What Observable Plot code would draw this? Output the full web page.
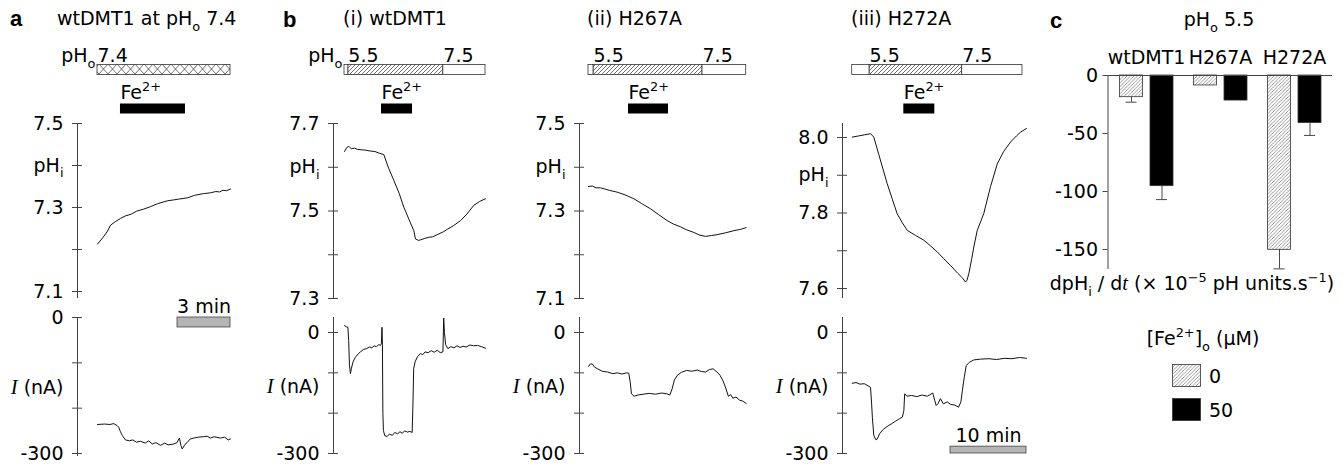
<!DOCTYPE html>
<html><head><meta charset="utf-8">
<script src="https://cdn.jsdelivr.net/npm/d3@7"></script>
<script src="https://cdn.jsdelivr.net/npm/@observablehq/plot@0.6"></script>
<style>
body{margin:0;background:#fff;}
#fig{position:relative;width:1343px;height:468px;overflow:hidden;background:#fff;color:#000;font-family:"DejaVu Sans",sans-serif}
#fig svg.layer{position:absolute;left:0;top:0}
</style></head><body>
<svg width="0" height="0" style="position:absolute">
<defs>
<pattern id="hatch" patternUnits="userSpaceOnUse" width="4" height="4">
<rect width="4" height="4" fill="#fff"/>
<path d="M-1,1 l2,-2 M0,4 l4,-4 M3,5 l2,-2" stroke="#333" stroke-width="0.7"/>
</pattern>
<pattern id="hatchC" patternUnits="userSpaceOnUse" width="3.5" height="3.5">
<rect width="3.5" height="3.5" fill="#fff"/>
<path d="M-1,1 l2,-2 M0,3.5 l3.5,-3.5 M2.5,4.5 l2,-2" stroke="#555" stroke-width="0.6"/>
</pattern>
<pattern id="cross" patternUnits="userSpaceOnUse" width="9" height="10" y="64">
<rect width="9" height="10" fill="#fff"/>
<path d="M0,0 L9,10 M0,10 L9,0" stroke="#333" stroke-width="0.7"/>
</pattern>
</defs>
</svg>
<div id="fig"></div>
<script>
// ---------------- DATA ----------------
// Panel a: wtDMT1 at pHo 7.4 (time in min, pHi / current in nA)
const phA = [[0,7.213],[0.3,7.228],[0.57,7.244],[0.74,7.258],[1.0,7.266],[1.3,7.274],[1.58,7.280],[1.9,7.284],[2.2,7.291],[2.6,7.296],[3.0,7.302],[3.4,7.309],[3.96,7.316],[4.3,7.318],[4.6,7.320],[5.09,7.323],[5.5,7.329],[6.0,7.333],[6.4,7.335],[6.7,7.338],[6.9,7.337],[7.1,7.341],[7.3,7.340],[7.53,7.344]];
const curA = [[0,-236],[0.4,-235],[0.7,-236],[0.92,-234],[1.1,-238],[1.2,-242],[1.3,-252],[1.4,-260],[1.58,-270],[1.8,-272],[2.0,-270],[2.2,-275],[2.43,-273],[2.7,-277],[2.9,-272],[3.1,-279],[3.3,-276],[3.57,-282],[3.8,-277],[4.0,-281],[4.32,-279],[4.5,-276],[4.64,-266],[4.72,-282],[4.8,-290],[4.95,-280],[5.07,-276],[5.25,-268],[5.45,-266],[5.7,-264],[6.0,-263],[6.21,-262],[6.4,-266],[6.6,-263],[6.96,-266],[7.2,-264],[7.4,-270],[7.53,-268]];
const pHoA = [{t1:0,t2:7.53,pH:"7.4",label:true}];
const feA = [{t1:1.3,t2:4.98}];
const phTicksA = [7.1,7.2,7.3,7.4,7.5];
const phTickLabelsA = ["7.1","","7.3","pH_{i}","7.5"];
const curTicksA = [0,-100,-200,-300];
const curTickLabelsA = ["0","","","-300"];
const scaleBarA = [{len:3,end:7.53,y1:0,y2:-22}];

// Panel b(i) wtDMT1
const phB1 = [[0,7.636],[0.3,7.645],[0.57,7.648],[0.9,7.642],[1.3,7.644],[1.67,7.641],[2.2,7.640],[2.8,7.639],[3.42,7.637],[4.0,7.636],[4.6,7.632],[5.17,7.629],[5.8,7.598],[6.49,7.570],[7.2,7.540],[7.8,7.509],[8.5,7.480],[9.12,7.455],[9.34,7.436],[9.7,7.433],[10.0,7.434],[10.5,7.437],[11.09,7.440],[11.6,7.441],[12.2,7.446],[12.7,7.450],[13.07,7.453],[13.51,7.458],[14.3,7.466],[15.26,7.478],[16.1,7.493],[17.01,7.513],[17.8,7.522],[18.55,7.528]];
const curB1 = [[0,17],[0.25,14],[0.45,13],[0.55,-20],[0.65,-80],[0.78,-102],[0.9,-90],[1.1,-74],[1.4,-62],[1.8,-53],[2.1,-48],[2.5,-42],[2.9,-40],[3.3,-36],[3.6,-38],[3.9,-33],[4.2,-35],[4.5,-30],[4.75,-32],[4.85,-28],[4.93,13],[4.99,-30],[5.05,-200],[5.12,-243],[5.3,-256],[5.6,-258],[5.9,-252],[6.3,-255],[6.6,-248],[7.0,-251],[7.3,-246],[7.6,-250],[7.9,-244],[8.3,-247],[8.6,-245],[8.9,-248],[9.0,-180],[9.1,-90],[9.3,-72],[9.6,-60],[10.0,-52],[10.3,-55],[10.6,-48],[11.0,-50],[11.4,-45],[11.8,-49],[12.2,-44],[12.6,-50],[12.95,-48],[13.05,36],[13.15,0],[13.3,-30],[13.6,-40],[14.0,-35],[14.4,-38],[14.8,-33],[15.2,-37],[15.6,-34],[16.0,-36],[16.5,-31],[17.0,-33],[17.5,-32],[18.0,-35],[18.55,-39]];
const pHoB1 = [{t1:0,t2:0.5,pH:"7.5",label:false},{t1:0.5,t2:13.0,pH:"5.5",label:true},{t1:13.0,t2:18.55,pH:"7.5",label:true}];
const feB1 = [{t1:4.87,t2:8.95}];
const phTicksB1 = [7.3,7.4,7.5,7.6,7.7];
const phTickLabelsB1 = ["7.3","","7.5","pH_{i}","7.7"];

// Panel b(ii) H267A
const phB2 = [[0,7.356],[0.5,7.357],[1.0,7.353],[1.58,7.353],[2.2,7.350],[2.8,7.347],[3.78,7.343],[4.8,7.337],[5.96,7.328],[7.0,7.317],[8.16,7.305],[9.2,7.292],[10.36,7.278],[11.2,7.270],[12.1,7.264],[12.9,7.257],[13.86,7.251],[14.6,7.245],[15.4,7.242],[16.2,7.244],[16.93,7.246],[18.0,7.250],[19.12,7.255],[20.0,7.258],[20.75,7.262]];
const curB2 = [[0,-84],[0.25,-78],[0.5,-78],[0.8,-86],[1.2,-90],[1.8,-96],[2.5,-98],[3.2,-102],[3.8,-100],[4.4,-103],[5.0,-100],[5.3,-101],[5.5,-125],[5.65,-152],[6.0,-158],[6.5,-155],[7.2,-153],[8.0,-151],[8.8,-153],[9.6,-150],[10.3,-152],[10.7,-155],[11.0,-140],[11.3,-118],[11.7,-106],[12.2,-99],[12.9,-94],[13.6,-96],[14.3,-93],[14.9,-97],[15.4,-98],[15.9,-92],[16.4,-90],[16.9,-98],[17.3,-106],[17.7,-120],[18.1,-140],[18.4,-158],[18.7,-154],[19.0,-163],[19.4,-160],[19.9,-168],[20.3,-170],[20.75,-176]];
const pHoB2 = [{t1:0,t2:0.66,pH:"7.5",label:false},{t1:0.66,t2:15.0,pH:"5.5",label:true},{t1:15.0,t2:20.75,pH:"7.5",label:true}];
const feB2 = [{t1:5.26,t2:10.53}];
const phTicksB2 = [7.1,7.2,7.3,7.4,7.5];
const phTickLabelsB2 = ["7.1","","7.3","pH_{i}","7.5"];

// Panel b(iii) H272A
const phB3 = [[0,8.001],[0.8,8.004],[1.6,8.007],[2.41,8.010],[2.84,8.001],[3.5,7.955],[4.6,7.878],[5.3,7.835],[5.92,7.798],[6.6,7.774],[7.24,7.754],[8.3,7.741],[9.42,7.728],[10.3,7.713],[11.18,7.697],[12.0,7.680],[12.93,7.661],[13.9,7.640],[14.5,7.628],[14.91,7.617],[15.1,7.622],[15.34,7.639],[15.7,7.676],[16.0,7.710],[16.45,7.754],[17.3,7.798],[18.2,7.870],[19.08,7.930],[19.9,7.962],[20.83,7.988],[21.6,8.004],[22.14,8.014],[22.93,8.024]];
const curB3 = [[0,-126],[0.5,-124],[1.0,-128],[1.6,-127],[2.41,-136],[2.55,-175],[2.65,-210],[2.84,-255],[3.1,-266],[3.3,-264],[3.6,-251],[4.1,-240],[4.6,-233],[5.2,-226],[5.7,-220],[6.2,-214],[6.6,-210],[6.8,-193],[6.9,-152],[7.2,-158],[7.8,-156],[8.5,-159],[9.2,-155],[9.9,-158],[10.6,-150],[10.85,-168],[11.05,-181],[11.3,-176],[11.6,-164],[12.0,-177],[12.5,-172],[12.93,-178],[13.5,-180],[14.0,-185],[14.3,-172],[14.5,-143],[14.75,-110],[15.0,-82],[15.4,-74],[16.0,-68],[16.9,-66],[18.0,-65],[19.0,-67],[20.0,-64],[21.0,-65],[22.0,-62],[22.93,-64]];
const pHoB3 = [{t1:0,t2:2.28,pH:"7.5",label:false},{t1:2.28,t2:14.47,pH:"5.5",label:true},{t1:14.47,t2:22.4,pH:"7.5",label:true}];
const feB3 = [{t1:6.79,t2:10.87}];
const phTicksB3 = [7.6,7.7,7.8,7.9,8.0];
const phTickLabelsB3 = ["7.6","","7.8","pH_{i}","8.0"];
const scaleBarB3 = [{len:10,end:22.93,y1:-283,y2:-300}];

const curTicksB = [0,-100,-200,-300];
const curTickLabelsB = ["0","","","-300"];

// Panel c: dpHi/dt at pHo 5.5
const groups = ["wtDMT1","H267A","H272A"];
const feConcs = ["0","50"];
const rate0 = [-18.7,-8.6,-150.3];
const se0 = [4.3,0,16.4];
const rate50 = [-95.4,-21.6,-41.0];
const se50 = [11.6,0,10.7];
const cTicks = [0,-50,-100,-150];

// ---------------- DRAWING ----------------
const W = 1343, H = 468;
const fig = document.getElementById("fig");
const NS = "http://www.w3.org/2000/svg";
const AX = "#444";

function rich(root){
  root.querySelectorAll("text").forEach(t=>{
    const s = t.textContent;
    if(!/[_^~]\{/.test(s)) return;
    const fs = parseFloat(getComputedStyle(t).fontSize) || 19;
    while(t.firstChild) t.removeChild(t.firstChild);
    const re = /([_^~])\{([^}]*)\}/g;
    let last = 0, m, cur = 0;
    const add = (str, kind)=>{
      if(!str) return;
      const sp = document.createElementNS(NS,"tspan");
      sp.textContent = str;
      const off = kind==="^" ? -0.42*fs : kind==="_" ? 0.3*fs : 0;
      if(off!==cur){ sp.setAttribute("dy", (off-cur).toFixed(2)); cur = off; }
      if(kind==="^"||kind==="_") sp.setAttribute("font-size", (0.68*fs).toFixed(1));
      if(kind==="~"){ sp.setAttribute("font-family","Liberation Serif, serif"); sp.setAttribute("font-style","italic"); sp.setAttribute("font-size",(1.08*fs).toFixed(1)); }
      t.appendChild(sp);
    };
    while((m = re.exec(s))){ add(s.slice(last,m.index),""); add(m[2],m[1]); last = re.lastIndex; }
    add(s.slice(last),"");
  });
}

function layer(opts){
  const svg = Plot.plot({
    width:W, height:H,
    style:{background:"transparent", fontFamily:"DejaVu Sans, sans-serif", fontSize:"19px", overflow:"visible", maxWidth:"none", color:"#000"},
    ...opts
  });
  svg.classList.add("layer");
  fig.appendChild(svg);
  rich(svg);
  return svg;
}

const fillFor = {"7.4":"url(#cross)","5.5":"url(#hatch)","7.5":"white"};

function drawColumn(c){
  const xs = {domain:[0,c.tEnd], range:c.px, axis:null, label:null};
  const mr = W - c.px[1];
  // protocol bars
  const segMarks = Object.keys(fillFor).map(k =>
    Plot.barX(c.pHo.filter(d=>d.pH===k), {x1:"t1", x2:"t2", y:()=>"pHo", fill:fillFor[k], stroke:"#333", strokeWidth:0.8, insetTop:14.5, insetBottom:14.5}));
  layer({
    marginLeft:c.axisX, marginRight:mr, marginTop:49.5, marginBottom:H-127.5,
    x:xs, y:{type:"band", domain:["pHo","Fe"], range:[49.5,127.5], padding:0, axis:null, label:null},
    marks:[
      ...segMarks,
      Plot.text(c.pHo.filter(d=>d.label), {x:"t1", y:()=>"pHo", text:"pH", textAnchor:"start", lineAnchor:"bottom", dy:-8}),
      c.showPHo ? Plot.text([c.pHo[0]], {x:"t1", y:()=>"pHo", text:()=>"pH_{o}", textAnchor:"end", lineAnchor:"bottom", dy:-8, dx:-2}) : null,
      Plot.barX(c.fe, {x1:"t1", x2:"t2", y:()=>"Fe", fill:"black", insetTop:14.5, insetBottom:14.5}),
      Plot.text(c.fe, {x:"t1", y:()=>"Fe", text:()=>"Fe^{2+}", textAnchor:"start", lineAnchor:"bottom", dy:-10})
    ]
  });
  // pHi trace
  const phLab = new Map(c.phTicks.map((d,i)=>[d, c.phTickLabels[i]]));
  layer({
    marginLeft:c.axisX, marginRight:mr, marginTop:c.phFrame[0], marginBottom:H-c.phFrame[1],
    x:xs, y:{domain:c.phDomain, range:c.phRange, label:null},
    marks:[
      Plot.frame({anchor:"left", stroke:AX}),
      Plot.axisY(c.phTicks, {anchor:"left", tickSize:10, dx:5, tickFormat:()=>"", stroke:AX, label:null}),
      Plot.axisY(c.phTicks, {anchor:"left", tickSize:0, tickPadding:14, tickFormat:d=>phLab.get(d), label:null}),
      Plot.line(c.ph, {x:d=>d[0], y:d=>d[1], stroke:"#111", strokeWidth:1})
    ]
  });
  // current trace
  const curLab = new Map(c.curTicks.map((d,i)=>[d, c.curTickLabels[i]]));
  layer({
    marginLeft:c.axisX, marginRight:mr, marginTop:c.curFrame[0], marginBottom:H-c.curFrame[1],
    x:xs, y:{domain:[-300,0], range:c.curRange, label:null},
    marks:[
      Plot.frame({anchor:"left", stroke:AX}),
      Plot.axisY(c.curTicks, {anchor:"left", tickSize:10, dx:5, tickFormat:()=>"", stroke:AX, label:null}),
      Plot.axisY(c.curTicks, {anchor:"left", tickSize:0, tickPadding:14, tickFormat:d=>curLab.get(d), label:null}),
      Plot.text(["~{I} (nA)"], {y:()=>c.curLabelY, frameAnchor:"left", dx:-14, textAnchor:"end", text:d=>d}),
      Plot.line(c.cur, {x:d=>d[0], y:d=>d[1], stroke:"#111", strokeWidth:1}),
      c.scaleBar ? Plot.rect(c.scaleBar, {x1:d=>d.end-d.len, x2:d=>d.end, y1:"y1", y2:"y2", fill:"#b5b5b5", stroke:"#444", strokeWidth:0.8}) : null,
      c.scaleBar ? Plot.text(c.scaleBar, {x:d=>d.end-d.len/2, y:"y1", text:d=>d.len+" min", lineAnchor:"bottom", dy:-5}) : null
    ]
  });
}

drawColumn({axisX:77, px:[97,230], tEnd:7.53, pHo:pHoA, fe:feA, showPHo:true,
  ph:phA, phTicks:phTicksA, phTickLabels:phTickLabelsA, phDomain:[7.1,7.5], phRange:[291,123], phFrame:[123,297],
  cur:curA, curTicks:curTicksA, curTickLabels:curTickLabelsA, curRange:[453,317], curFrame:[317,455], curLabelY:-155, scaleBar:scaleBarA});
drawColumn({axisX:333, px:[344,485], tEnd:18.55, pHo:pHoB1, fe:feB1, showPHo:true,
  ph:phB1, phTicks:phTicksB1, phTickLabels:phTickLabelsB1, phDomain:[7.3,7.7], phRange:[298,123], phFrame:[123,298],
  cur:curB1, curTicks:curTicksB, curTickLabels:curTickLabelsB, curRange:[453,332], curFrame:[317,453], curLabelY:-136});
drawColumn({axisX:579, px:[588,745.7], tEnd:20.75, pHo:pHoB2, fe:feB2, showPHo:false,
  ph:phB2, phTicks:phTicksB2, phTickLabels:phTickLabelsB2, phDomain:[7.1,7.5], phRange:[298,123], phFrame:[123,298],
  cur:curB2, curTicks:curTicksB, curTickLabels:curTickLabelsB, curRange:[453,332], curFrame:[317,453], curLabelY:-136});
drawColumn({axisX:842, px:[851.7,1026], tEnd:22.93, pHo:pHoB3, fe:feB3, showPHo:false,
  ph:phB3, phTicks:phTicksB3, phTickLabels:phTickLabelsB3, phDomain:[7.6,8.0], phRange:[288,137], phFrame:[123,297],
  cur:curB3, curTicks:curTicksB, curTickLabels:curTickLabelsB, curRange:[453,332], curFrame:[317,453], curLabelY:-136, scaleBar:scaleBarB3});

// Panel c
const cData = [];
groups.forEach((g,i)=>{
  cData.push({group:g, fe:feConcs[0], rate:rate0[i], se:se0[i]});
  cData.push({group:g, fe:feConcs[1], rate:rate50[i], se:se50[i]});
});
const off = {"0":-15, "50":15.5};
const cFill = {"0":"url(#hatchC)", "50":"black"};
const barMarks = [];
feConcs.forEach(f=>{
  const sub = cData.filter(d=>d.fe===f);
  const err = sub.filter(d=>d.se>0);
  barMarks.push(
    Plot.barY(sub, {x:"group", y1:0, y2:"rate", fill:cFill[f], stroke:"#333", strokeWidth:0.8, insetLeft:25.5, insetRight:25.5, dx:off[f]}),
    Plot.ruleX(err, {x:"group", y1:"rate", y2:d=>d.rate-d.se, dx:off[f], stroke:"#333", strokeWidth:0.9}),
    Plot.tickY(err, {x:"group", y:d=>d.rate-d.se, dx:off[f], insetLeft:31.5, insetRight:31.5, stroke:"#333", strokeWidth:0.9})
  );
});
layer({
  marginLeft:1107.5, marginRight:W-1332, marginTop:75, marginBottom:H-268,
  x:{type:"band", domain:groups, range:[1107.5,1332], padding:0, label:null},
  y:{domain:[-166.4,0], range:[268,75], label:null},
  marks:[
    ...barMarks,
    Plot.frame({anchor:"left", stroke:AX}),
    Plot.axisY(cTicks, {anchor:"left", tickSize:5, tickPadding:5, tickFormat:d=>String(d), stroke:AX, label:null}),
    Plot.axisX(groups, {anchor:"top", tickSize:0, tickPadding:12, label:null}),
    Plot.ruleY([0], {stroke:AX})
  ]
});

// Titles, annotations and legend
const ov = document.createElementNS(NS,"svg");
ov.setAttribute("width",W); ov.setAttribute("height",H); ov.setAttribute("class","layer");
ov.setAttribute("font-family","DejaVu Sans, sans-serif"); ov.setAttribute("font-size","19");
const texts = [
  {x:10, y:26, s:"a", bold:true},
  {x:57, y:25, s:"wtDMT1 at pH_{o} 7.4"},
  {x:283, y:27, s:"b", bold:true},
  {x:343, y:25, s:"(i) wtDMT1"},
  {x:587, y:25, s:"(ii) H267A"},
  {x:851, y:25, s:"(iii) H272A"},
  {x:1050, y:28, s:"c", bold:true},
  {x:1219, y:26, s:"pH_{o} 5.5", anchor:"middle"},
  {x:1192, y:290, s:"dpH_{i} / d~{t} (× 10^{−5} pH units.s^{−1})", anchor:"middle"},
  {x:1203, y:345, s:"[Fe^{2+}]_{o} (μM)", anchor:"middle"}
];
texts.forEach(d=>{
  const t = document.createElementNS(NS,"text");
  t.setAttribute("x",d.x); t.setAttribute("y",d.y);
  if(d.anchor) t.setAttribute("text-anchor",d.anchor);
  if(d.bold){ t.setAttribute("font-family","Liberation Sans, Arial, sans-serif"); t.setAttribute("font-weight","bold"); t.setAttribute("font-size","22"); }
  t.textContent = d.s;
  ov.appendChild(t);
});
feConcs.forEach((f,i)=>{
  const r = document.createElementNS(NS,"rect");
  r.setAttribute("x",1172.5); r.setAttribute("y",364.5+34*i); r.setAttribute("width",28); r.setAttribute("height",22);
  r.setAttribute("fill",cFill[f]); r.setAttribute("stroke","#333"); r.setAttribute("stroke-width","0.8");
  ov.appendChild(r);
  const t = document.createElementNS(NS,"text");
  t.setAttribute("x",1209); t.setAttribute("y",383+34*i); t.textContent = f;
  ov.appendChild(t);
});
fig.appendChild(ov);
rich(ov);
</script>
</body></html>
